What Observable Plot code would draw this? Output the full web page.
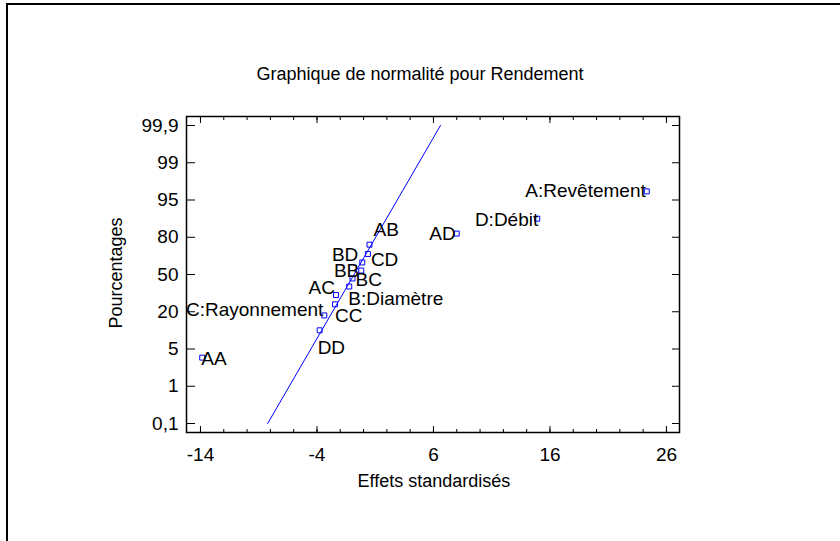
<!DOCTYPE html>
<html><head><meta charset="utf-8">
<script src="https://cdn.jsdelivr.net/npm/d3@7"></script>
<script src="https://cdn.jsdelivr.net/npm/@observablehq/plot@0.6"></script>
<style>
body{margin:0;background:#fff;overflow:hidden}
#wrap{position:relative;width:840px;height:541px;overflow:hidden;font-family:"Liberation Sans",Arial,sans-serif;color:#000}
#border{position:absolute;left:6px;top:3px;width:900px;height:600px;border:2px solid #000;box-sizing:border-box}
#title{position:absolute;left:0;width:840px;top:64px;line-height:20px;text-align:center;font-size:18px}
#xlabel{position:absolute;left:334px;width:200px;top:471px;line-height:20px;text-align:center;font-size:18px}
#ylabel{position:absolute;left:16px;width:200px;top:263px;line-height:20px;text-align:center;font-size:18px;transform:rotate(-90deg)}
#chart{position:absolute;left:0;top:0}
</style></head><body>
<div id="wrap">
<div id="border"></div>
<div id="chart"></div>
<div id="title">Graphique de normalité pour Rendement</div>
<div id="xlabel">Effets standardisés</div>
<div id="ylabel">Pourcentages</div>
</div>
<script>
// ---- data ----
const effects = ["AA","DD","C:Rayonnement","CC","AC","B:Diamètre","BC","BB","BD","CD","AB","AD","D:Débit","A:Revêtement"];
const stdEffects = [-13.85,-3.77,-3.37,-2.45,-2.37,-1.23,-0.95,-0.20,-0.11,0.37,0.51,8.0,14.91,24.31];
const percents = [3.57,10.71,17.86,25.0,32.14,39.29,46.43,53.57,60.71,67.86,75.0,82.14,89.29,96.43];
const fitX = [-8.23, 6.6];
const fitPct = [0.1, 99.9];
const yTickPct = [0.1, 1, 5, 20, 50, 80, 95, 99, 99.9];
const yTickLabels = ["0,1","1","5","20","50","80","95","99","99,9"];
const xTicks = [-14, -4, 6, 16, 26];
const xMinorTicks = [-14,-12,-10,-8,-6,-4,-2,0,2,4,6,8,10,12,14,16,18,20,22,24,26];
const xDomain = [-15.2, 27.12];

// label placement (anchor, dx, dy) – styling only
const labelPlace = {
  "AA": ["start", -1, 1],
  "DD": ["start", -2, 18],
  "C:Rayonnement": ["end", -1, -6],
  "CC": ["start", 0, 12],
  "AC": ["end", -1, -7],
  "B:Diamètre": ["start", -1, 12],
  "BC": ["start", 3, 1],
  "BB": ["end", -2, 0],
  "BD": ["end", -4, -8],
  "CD": ["start", 3, 6],
  "AB": ["start", 4, -15],
  "AD": ["end", -1, 0],
  "D:Débit": ["end", 1, 1],
  "A:Revêtement": ["end", -1, 0]
};

// inverse normal CDF (Acklam) for the probability axis
function probit(p) {
  const a=[-3.969683028665376e+01,2.209460984245205e+02,-2.759285104469687e+02,1.383577518672690e+02,-3.066479806614716e+01,2.506628277459239e+00];
  const b=[-5.447609879822406e+01,1.615858368580409e+02,-1.556989798598866e+02,6.680131188771972e+01,-1.328068155288572e+01];
  const c=[-7.784894002430293e-03,-3.223964580411365e-01,-2.400758277161838e+00,-2.549732539343734e+00,4.374664141464968e+00,2.938163982698783e+00];
  const d=[7.784695709041462e-03,3.224671290700398e-01,2.445134137142996e+00,3.754408661907416e+00];
  const pl=0.02425, ph=1-pl;
  let q,r;
  if (p<pl){q=Math.sqrt(-2*Math.log(p));return (((((c[0]*q+c[1])*q+c[2])*q+c[3])*q+c[4])*q+c[5])/((((d[0]*q+d[1])*q+d[2])*q+d[3])*q+1);}
  if (p<=ph){q=p-0.5;r=q*q;return (((((a[0]*r+a[1])*r+a[2])*r+a[3])*r+a[4])*r+a[5])*q/(((((b[0]*r+b[1])*r+b[2])*r+b[3])*r+b[4])*r+1);}
  q=Math.sqrt(-2*Math.log(1-p));return -(((((c[0]*q+c[1])*q+c[2])*q+c[3])*q+c[4])*q+c[5])/((((d[0]*q+d[1])*q+d[2])*q+d[3])*q+1);
}

const rows = effects.map((name, i) => ({name, x: stdEffects[i], z: probit(percents[i] / 100)}));
const fitRows = fitX.map((x, i) => ({x, z: probit(fitPct[i] / 100)}));
const yTickZ = yTickPct.map(p => probit(p / 100));
const yFmt = d => { let best = 0; yTickZ.forEach((z, i) => { if (Math.abs(z - d) < Math.abs(yTickZ[best] - d)) best = i; }); return yTickLabels[best]; };

const W = 840, H = 541, mL = 186, mR = 161, mT = 116, mB = 109;
const yBottomTick = 423, yTopTick = 125;
const yRange = yTickPct.map((_, i) => yBottomTick - i * (yBottomTick - yTopTick) / (yTickPct.length - 1));

const labelMarks = rows.map(r => {
  const [anchor, dx, dy] = labelPlace[r.name];
  return Plot.text([r], {x: "x", y: "z", text: "name", textAnchor: anchor, dx, dy, fontSize: 19, fill: "#000"});
});

const chart = Plot.plot({
  width: W, height: H,
  marginLeft: mL, marginRight: mR, marginTop: mT, marginBottom: mB,
  style: {fontFamily: "'Liberation Sans', Arial, sans-serif", fontSize: "19px", color: "#000", background: "transparent", overflow: "visible"},
  x: {type: "linear", domain: xDomain},
  y: {type: "linear", domain: yTickZ, range: yRange},
  marks: [
    Plot.line(fitRows, {x: "x", y: "z", stroke: "#0000ff", strokeWidth: 1}),
    Plot.dot(rows, {x: "x", y: "z", symbol: "square", r: 2.8, stroke: "#0000ff", fill: "none", strokeWidth: 1}),
    ...labelMarks,
    Plot.frame({stroke: "#000", strokeWidth: 1.5}),
    Plot.axisX({anchor: "bottom", ticks: xTicks, tickSize: -6, tickPadding: 21, label: null, tickFormat: d => String(d)}),
    Plot.axisX({anchor: "bottom", ticks: xMinorTicks, tickSize: -3, label: null, tickFormat: () => ""}),
    Plot.axisX({anchor: "top", ticks: xTicks, tickSize: -6, label: null, tickFormat: () => ""}),
    Plot.axisX({anchor: "top", ticks: xMinorTicks, tickSize: -3, label: null, tickFormat: () => ""}),
    Plot.axisY({anchor: "left", ticks: yTickZ, tickSize: -9, tickPadding: 17, label: null, tickFormat: yFmt}),
    Plot.axisY({anchor: "right", ticks: yTickZ, tickSize: -8, label: null, tickFormat: () => ""})
  ]
});
document.getElementById("chart").appendChild(chart);
</script>
</body></html>
